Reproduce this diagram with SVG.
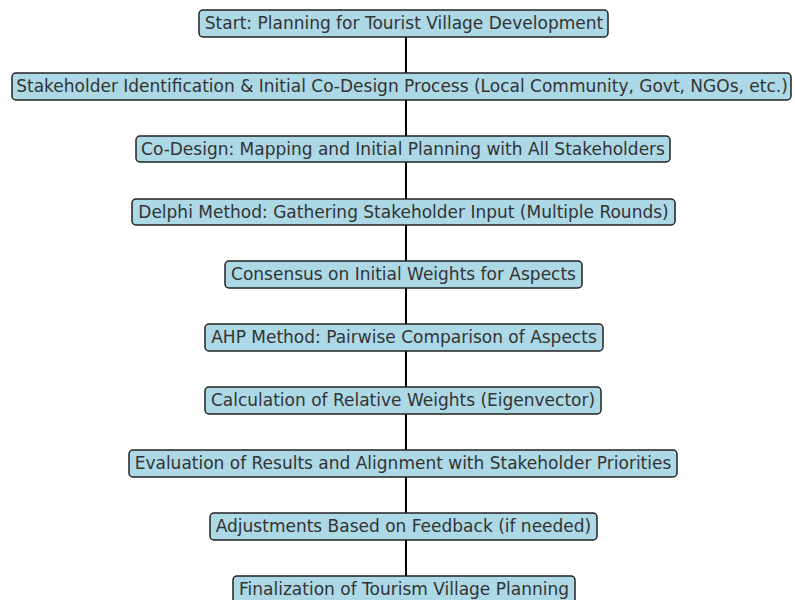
<svg xmlns="http://www.w3.org/2000/svg" width="795" height="600" viewBox="0 0 795 600">
<style>
.box{fill:#add8e6;stroke:#222;stroke-width:1.5}
.t{font-family:"DejaVu Sans",sans-serif;font-size:17px;fill:#333;text-anchor:middle;dominant-baseline:central}
.c{stroke:#000;stroke-width:2}
</style>
<rect width="795" height="600" fill="#fff"/>
<g id="connectors">
<line class="c" x1="406" y1="37" x2="406" y2="73"/>
<line class="c" x1="406" y1="100" x2="406" y2="136"/>
<line class="c" x1="406" y1="162" x2="406" y2="199"/>
<line class="c" x1="406" y1="225" x2="406" y2="261"/>
<line class="c" x1="406" y1="288" x2="406" y2="324"/>
<line class="c" x1="406" y1="351" x2="406" y2="387"/>
<line class="c" x1="406" y1="414" x2="406" y2="450"/>
<line class="c" x1="406" y1="477" x2="406" y2="513"/>
<line class="c" x1="406" y1="540" x2="406" y2="576"/>
</g>
<g id="n1"><rect class="box" x="199" y="10" width="409" height="27" rx="4"/><text class="t" x="404" y="23">Start: Planning for Tourist Village Development</text></g>
<g id="n2"><rect class="box" x="12" y="73" width="779" height="27" rx="4"/><text class="t" x="402" y="86">Stakeholder Identification &amp; Initial Co-Design Process (Local Community, Govt, NGOs, etc.)</text></g>
<g id="n3"><rect class="box" x="136" y="136" width="534" height="26" rx="4"/><text class="t" x="403" y="148.5">Co-Design: Mapping and Initial Planning with All Stakeholders</text></g>
<g id="n4"><rect class="box" x="132" y="199" width="543" height="26" rx="4"/><text class="t" x="403.5" y="211.5">Delphi Method: Gathering Stakeholder Input (Multiple Rounds)</text></g>
<g id="n5"><rect class="box" x="225" y="261" width="357" height="27" rx="4"/><text class="t" x="403.5" y="274">Consensus on Initial Weights for Aspects</text></g>
<g id="n6"><rect class="box" x="205" y="324" width="398" height="27" rx="4"/><text class="t" x="404" y="337">AHP Method: Pairwise Comparison of Aspects</text></g>
<g id="n7"><rect class="box" x="205" y="387" width="396" height="27" rx="4"/><text class="t" x="403" y="400">Calculation of Relative Weights (Eigenvector)</text></g>
<g id="n8"><rect class="box" x="129" y="450" width="548" height="27" rx="4"/><text class="t" x="403" y="463">Evaluation of Results and Alignment with Stakeholder Priorities</text></g>
<g id="n9"><rect class="box" x="210" y="513" width="387" height="27" rx="4"/><text class="t" x="403.5" y="526">Adjustments Based on Feedback (if needed)</text></g>
<g id="n10"><rect class="box" x="233" y="576" width="342" height="27" rx="4"/><text class="t" x="404" y="589">Finalization of Tourism Village Planning</text></g>
</svg>
